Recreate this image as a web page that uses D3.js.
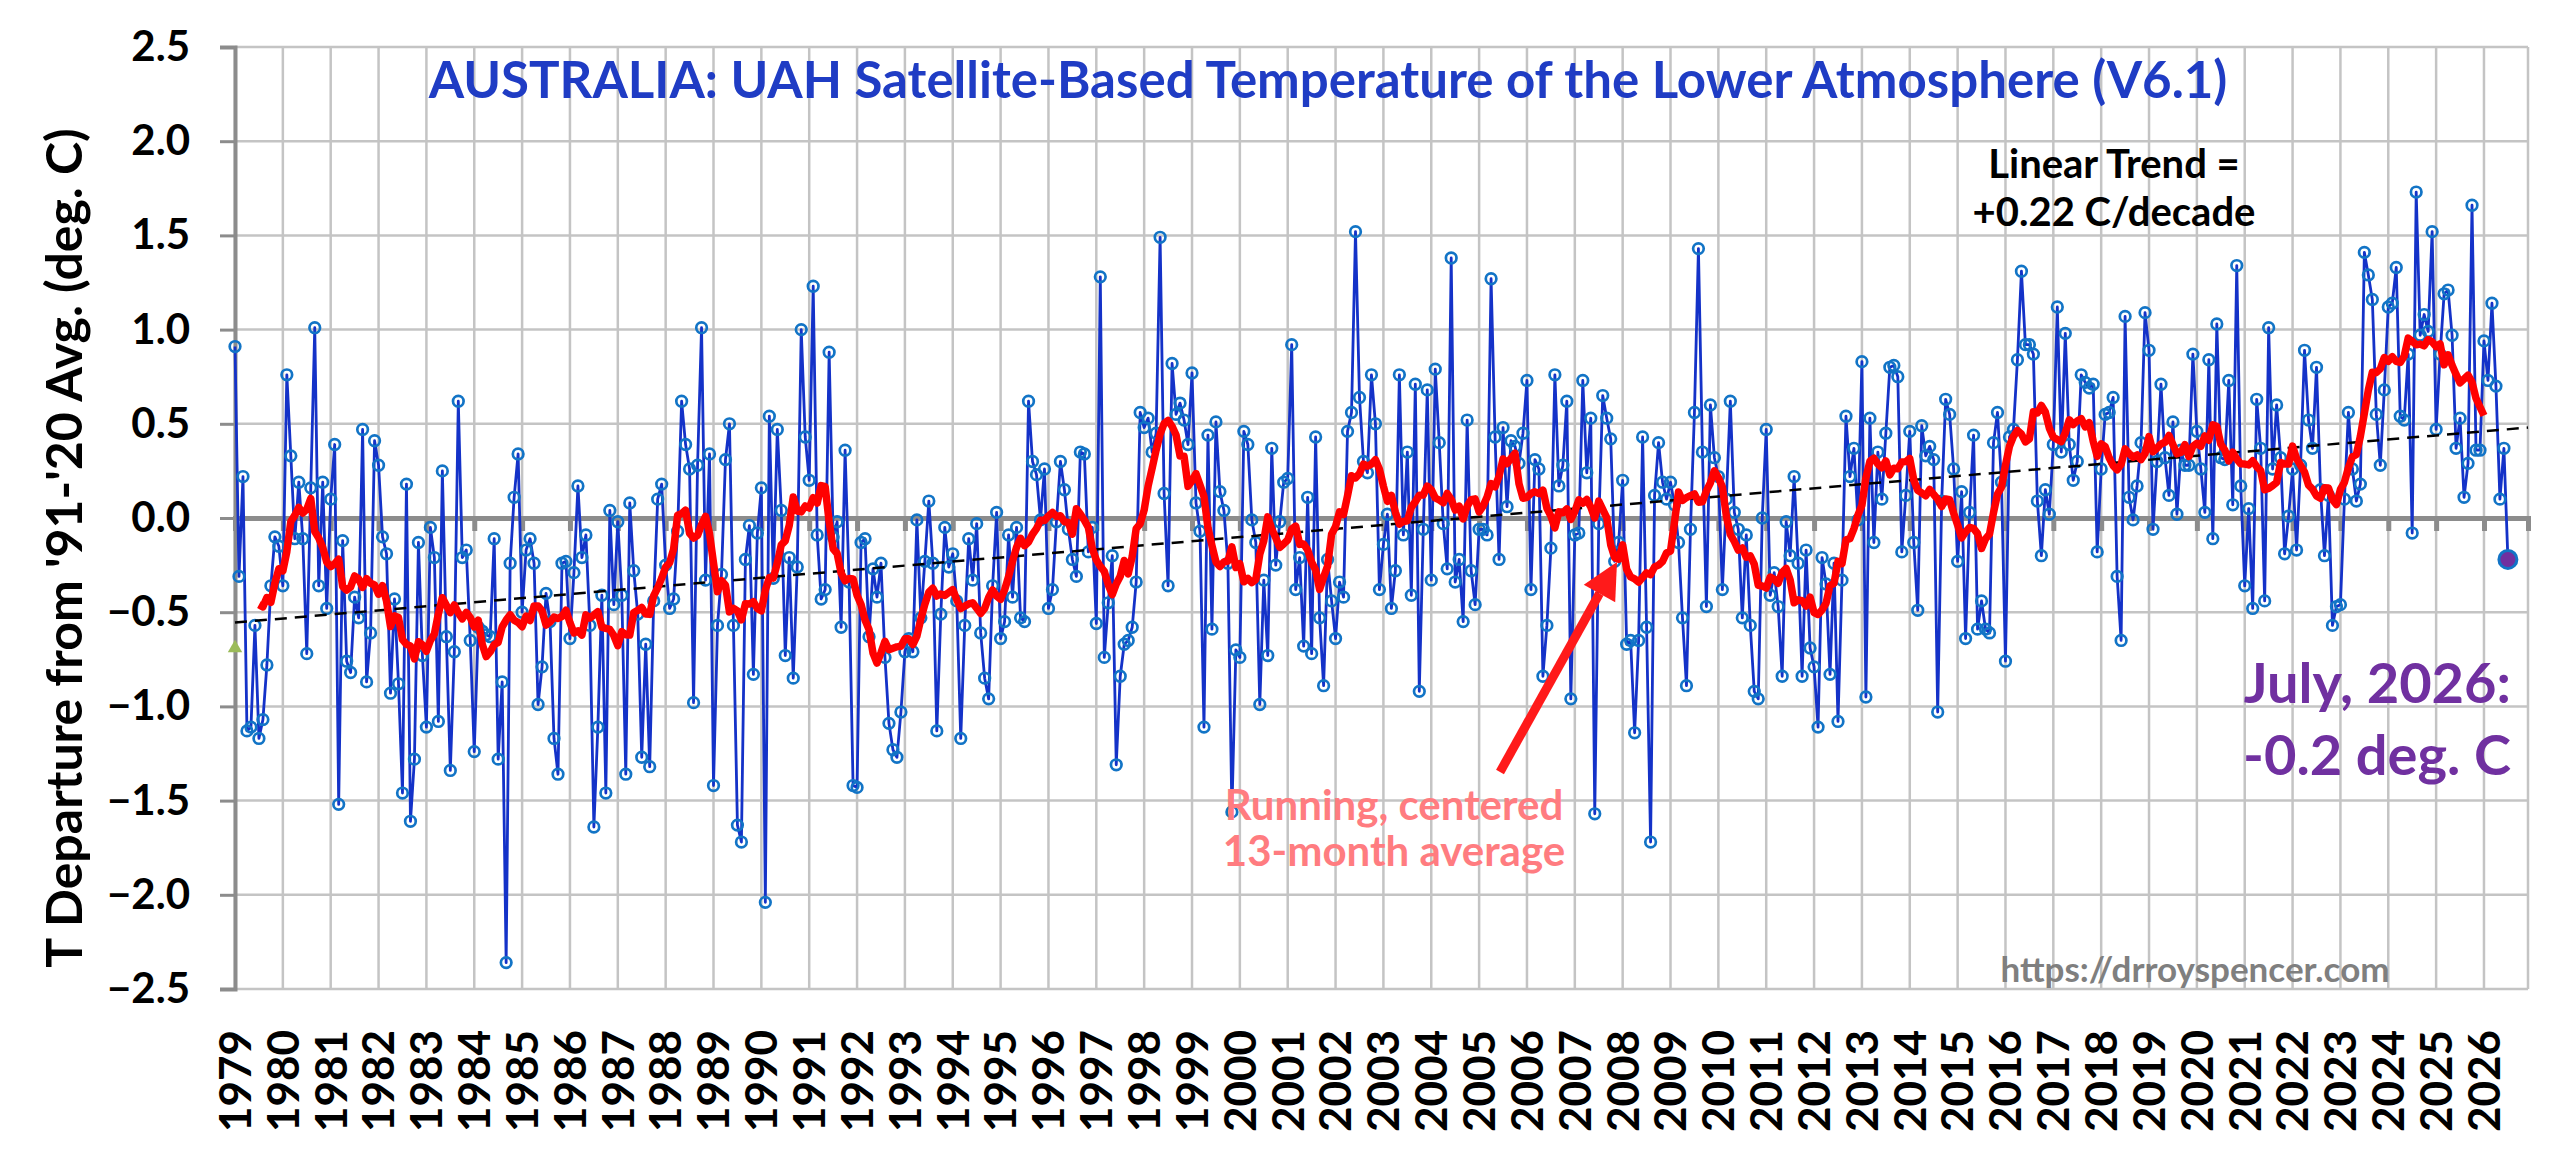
<!DOCTYPE html>
<html>
<head>
<meta charset="utf-8">
<script src="https://cdn.jsdelivr.net/npm/d3@7"></script>
<style>
    body { margin: 0; background: #fff; }
    text { font-family: Lato, "Open Sans", sans-serif; font-weight: bold; }
</style>
</head>
<body>
<svg id="chart" width="2560" height="1152"></svg>
<script>
// monthly anomalies (deg C), one row per year, starting Jan 1979, last month Jul 2026
var firstYear = 1979;
var anomalies = [
    0.91, -0.31, 0.22, -1.13, -1.11, -0.57, -1.17, -1.07, -0.78, -0.36, -0.10, -0.15,
    -0.36, 0.76, 0.33, -0.11, 0.19, -0.11, -0.72, 0.16, 1.01, -0.36, 0.19, -0.48,
    0.10, 0.39, -1.52, -0.12, -0.76, -0.82, -0.42, -0.53, 0.47, -0.87, -0.61, 0.41,
    0.28, -0.10, -0.19, -0.93, -0.43, -0.88, -1.46, 0.18, -1.61, -1.28, -0.13, -0.73,
    -1.11, -0.05, -0.21, -1.08, 0.25, -0.63, -1.34, -0.71, 0.62, -0.21, -0.17, -0.65,
    -1.24, -0.58, -0.60, -0.62, -0.63, -0.11, -1.28, -0.87, -2.36, -0.24, 0.11, 0.34,
    -0.50, -0.17, -0.11, -0.24, -0.99, -0.79, -0.40, -0.55, -1.17, -1.36, -0.24, -0.23,
    -0.64, -0.29, 0.17, -0.21, -0.09, -0.57, -1.64, -1.11, -0.41, -1.46, 0.04, -0.46,
    -0.02, -0.41, -1.36, 0.08, -0.28, -0.51, -1.27, -0.67, -1.32, -0.44, 0.10, 0.18,
    -0.25, -0.48, -0.43, -0.07, 0.62, 0.39, 0.26, -0.98, 0.28, 1.01, -0.33, 0.34,
    -1.42, -0.57, -0.30, 0.31, 0.50, -0.57, -1.63, -1.72, -0.22, -0.04, -0.83, -0.08,
    0.16, -2.04, 0.54, -0.32, 0.47, 0.04, -0.73, -0.21, -0.85, -0.26, 1.00, 0.43,
    0.20, 1.23, -0.09, -0.43, -0.38, 0.88, -0.10, -0.02, -0.58, 0.36, -0.34, -1.42,
    -1.43, -0.13, -0.11, -0.63, -0.27, -0.42, -0.24, -0.74, -1.09, -1.23, -1.27, -1.03,
    -0.71, -0.64, -0.71, -0.01, -0.53, -0.23, 0.09, -0.24, -1.13, -0.51, -0.05, -0.26,
    -0.19, -0.44, -1.17, -0.57, -0.11, -0.33, -0.03, -0.61, -0.85, -0.96, -0.36, 0.03,
    -0.64, -0.55, -0.09, -0.42, -0.05, -0.53, -0.55, 0.62, 0.30, 0.23, -0.01, 0.26,
    -0.48, -0.38, -0.02, 0.30, 0.15, -0.06, -0.22, -0.31, 0.35, 0.34, -0.18, -0.05,
    -0.56, 1.28, -0.74, -0.45, -0.20, -1.31, -0.84, -0.67, -0.65, -0.58, -0.34, 0.56,
    0.48, 0.53, 0.35, 0.45, 1.49, 0.13, -0.36, 0.82, 0.55, 0.61, 0.52, 0.39,
    0.77, 0.08, -0.07, -1.11, 0.44, -0.59, 0.51, 0.14, 0.04, -0.24, -1.56, -0.70,
    -0.74, 0.46, 0.39, -0.01, -0.13, -0.99, -0.33, -0.73, 0.37, -0.25, -0.02, 0.19,
    0.21, 0.92, -0.38, -0.21, -0.68, 0.11, -0.72, 0.43, -0.53, -0.89, -0.22, -0.44,
    -0.64, -0.34, -0.42, 0.46, 0.56, 1.52, 0.64, 0.30, 0.24, 0.76, 0.50, -0.38,
    -0.14, 0.02, -0.48, -0.28, 0.76, -0.09, 0.35, -0.41, 0.71, -0.92, -0.06, 0.68,
    -0.33, 0.79, 0.40, -0.03, -0.27, 1.38, -0.34, -0.22, -0.55, 0.52, -0.28, -0.46,
    -0.06, -0.06, -0.09, 1.27, 0.43, -0.22, 0.48, 0.06, 0.41, 0.38, 0.29, 0.45,
    0.73, -0.38, 0.31, 0.26, -0.84, -0.57, -0.16, 0.76, 0.17, 0.28, 0.62, -0.96,
    -0.09, -0.08, 0.73, 0.24, 0.53, -1.57, -0.03, 0.65, 0.53, 0.42, -0.23, -0.13,
    0.20, -0.67, -0.65, -1.14, -0.65, 0.43, -0.58, -1.72, 0.12, 0.40, 0.19, 0.10,
    0.19, 0.07, -0.13, -0.53, -0.89, -0.06, 0.56, 1.43, 0.35, -0.47, 0.60, 0.32,
    0.22, -0.38, 0.10, 0.62, 0.03, -0.06, -0.53, -0.09, -0.57, -0.92, -0.96, 0.00,
    0.47, -0.41, -0.29, -0.47, -0.84, -0.02, -0.20, 0.22, -0.24, -0.84, -0.17, -0.69,
    -0.79, -1.11, -0.21, -0.35, -0.83, -0.24, -1.08, -0.33, 0.54, 0.22, 0.37, -0.01,
    0.83, -0.95, 0.53, -0.13, 0.35, 0.10, 0.45, 0.80, 0.81, 0.75, -0.18, 0.12,
    0.46, -0.13, -0.49, 0.49, 0.33, 0.38, 0.31, -1.03, 0.09, 0.63, 0.55, 0.26,
    -0.23, 0.14, -0.64, 0.03, 0.44, -0.59, -0.44, -0.59, -0.61, 0.40, 0.56, 0.19,
    -0.76, 0.43, 0.47, 0.84, 1.31, 0.92, 0.92, 0.87, 0.09, -0.20, 0.15, 0.02,
    0.39, 1.12, 0.35, 0.98, 0.39, 0.20, 0.30, 0.76, 0.72, 0.69, 0.71, -0.18,
    0.26, 0.55, 0.56, 0.64, -0.31, -0.65, 1.07, 0.11, -0.01, 0.17, 0.40, 1.09,
    0.89, -0.06, 0.30, 0.71, 0.32, 0.12, 0.51, 0.02, 0.36, 0.28, 0.28, 0.87,
    0.46, 0.26, 0.03, 0.84, -0.11, 1.03, 0.32, 0.31, 0.73, 0.07, 1.34, 0.17,
    -0.36, 0.05, -0.48, 0.63, 0.37, -0.44, 1.01, 0.26, 0.60, 0.32, -0.19, 0.01,
    0.26, -0.17, 0.28, 0.89, 0.52, 0.37, 0.80, 0.15, -0.20, 0.12, -0.57, -0.47,
    -0.46, 0.10, 0.56, 0.26, 0.09, 0.18, 1.41, 1.29, 1.16, 0.55, 0.28, 0.68,
    1.12, 1.14, 1.33, 0.54, 0.52, 0.87, -0.08, 1.73, 0.97, 1.08, 0.99, 1.52,
    0.47, 0.87, 1.19, 1.21, 0.97, 0.37, 0.53, 0.11, 0.29, 1.66, 0.36, 0.36,
    0.94, 0.73, 1.14, 0.70, 0.10, 0.37, -0.22
];

// axis ticks
var yearTicks = d3.range(1979, 2027);
var valueTicks = [-2.5, -2.0, -1.5, -1.0, -0.5, 0.0, 0.5, 1.0, 1.5, 2.0, 2.5];

// dashed linear trend at both ends
var trendYears = [1979, 2026.92];
var trendValues = [-0.555, 0.48];

// text
var titleText = "AUSTRALIA: UAH Satellite-Based Temperature of the Lower Atmosphere (V6.1)";
var yTitle = "T Departure from '91-'20 Avg. (deg. C)";
var trendNote = ["Linear Trend =", "+0.22 C/decade"];
var runningNote = ["Running, centered", "13-month average"];
var latestNote = ["July, 2026:", "-0.2 deg. C"];
var siteNote = "https://drroyspencer.com";

var svg = d3.select("#chart");

// plot box (pixels)
var plotLeft = 235, plotRight = 2528, plotTop = 47, plotBottom = 989;

var x = d3.scaleLinear().domain([1979, 2026.92]).range([plotLeft, plotRight]);
var y = d3.scaleLinear().domain([-2.5, 2.5]).range([plotBottom, plotTop]);

var points = anomalies.map(function (v, i) {
    return { t: firstYear + i / 12, v: v };
});

// centered 13-month running mean, only where the full window exists
var running = [];
for (var i = 6; i < anomalies.length - 6; i++) {
    running.push({ t: firstYear + i / 12, v: d3.mean(anomalies.slice(i - 6, i + 7)) });
}

//gridlines
var grid = svg.append("g");
grid.selectAll("line.h")
    .data(valueTicks)
    .enter().append("line")
    .attr("x1", plotLeft).attr("x2", plotRight)
    .attr("y1", function (d) { return y(d); })
    .attr("y2", function (d) { return y(d); })
    .attr("stroke", "#c4c4c4").attr("stroke-width", 2.5);
grid.selectAll("line.v")
    .data(yearTicks.concat([2026.92]))
    .enter().append("line")
    .attr("y1", plotTop).attr("y2", plotBottom)
    .attr("x1", function (d) { return x(d); })
    .attr("x2", function (d) { return x(d); })
    .attr("stroke", "#c4c4c4").attr("stroke-width", 2.5);

// y axis with outward ticks
var yAxis = d3.axisLeft(y).tickValues(valueTicks).tickFormat(d3.format(".1f"))
    .tickSize(15).tickPadding(30);
var yg = svg.append("g").attr("transform", "translate(" + plotLeft + ",0)").call(yAxis);
yg.select(".domain").attr("stroke", "#8c8c8c").attr("stroke-width", 4);
yg.selectAll(".tick line").attr("stroke", "#8c8c8c").attr("stroke-width", 3);
yg.selectAll(".tick text").attr("font-size", 42).attr("fill", "#000")
    .style("font-family", "Lato, sans-serif").style("font-weight", "bold");

// category axis crossing at zero, ticks below it
var xAxis = d3.axisBottom(x).tickValues(yearTicks).tickSize(13).tickFormat("");
var xg = svg.append("g").attr("transform", "translate(0," + y(0) + ")").call(xAxis);
xg.select(".domain").attr("stroke", "#8c8c8c").attr("stroke-width", 5);
xg.selectAll(".tick line").attr("stroke", "#8c8c8c").attr("stroke-width", 5);

// year labels under the plot, rotated
svg.append("g").selectAll("text")
    .data(yearTicks)
    .enter().append("text")
    .attr("transform", function (d) { return "translate(" + x(d) + ",1030) rotate(-90)"; })
    .attr("text-anchor", "end")
    .attr("dy", "0.36em")
    .attr("font-size", 44)
    .text(function (d) { return d; });

// axis title
svg.append("text")
    .attr("transform", "translate(64,548) rotate(-90)")
    .attr("text-anchor", "middle")
    .attr("dy", "0.35em")
    .attr("font-size", 50)
    .text(yTitle);

// title
svg.append("text")
    .attr("x", 1328).attr("y", 98)
    .attr("text-anchor", "middle")
    .attr("font-size", 51)
    .attr("fill", "#1f3cc4")
    .text(titleText);

var line = d3.line()
    .x(function (d) { return x(d.t); })
    .y(function (d) { return y(d.v); });

// monthly series
svg.append("path")
    .datum(points)
    .attr("d", line)
    .attr("fill", "none")
    .attr("stroke", "#1432c8")
    .attr("stroke-width", 2.8)
    .attr("stroke-linejoin", "round");

svg.append("g").selectAll("circle")
    .data(points.slice(0, -1))
    .enter().append("circle")
    .attr("cx", function (d) { return x(d.t); })
    .attr("cy", function (d) { return y(d.v); })
    .attr("r", 5.3)
    .attr("fill", "none")
    .attr("stroke", "#1274c6")
    .attr("stroke-width", 2.7);

// trend
svg.append("line")
    .attr("x1", x(trendYears[0])).attr("y1", y(trendValues[0]))
    .attr("x2", x(trendYears[1])).attr("y2", y(trendValues[1]))
    .attr("stroke", "#000")
    .attr("stroke-width", 2.5)
    .attr("stroke-dasharray", "12,8");

// running mean
svg.append("path")
    .datum(running)
    .attr("d", line)
    .attr("fill", "none")
    .attr("stroke", "#ff0000")
    .attr("stroke-width", 7.5)
    .attr("stroke-linejoin", "round");

// small green marker at the start of the axis
svg.append("path")
    .attr("d", d3.symbol().type(d3.symbolTriangle).size(90))
    .attr("transform", "translate(" + plotLeft + "," + y(-0.69) + ")")
    .attr("fill", "#9bbb59");

// latest month highlighted
var last = points[points.length - 1];
svg.append("circle")
    .attr("cx", x(last.t)).attr("cy", y(last.v))
    .attr("r", 9)
    .attr("fill", "#7030a0")
    .attr("stroke", "#1274c6")
    .attr("stroke-width", 3);

// notes
svg.append("g").selectAll("text")
    .data(trendNote)
    .enter().append("text")
    .attr("x", 2114)
    .attr("y", function (d, i) { return 178 + i * 48; })
    .attr("text-anchor", "middle")
    .attr("font-size", 40)
    .text(function (d) { return d; });

svg.append("g").selectAll("text")
    .data(runningNote)
    .enter().append("text")
    .attr("x", 1394)
    .attr("y", function (d, i) { return 820 + i * 46; })
    .attr("text-anchor", "middle")
    .attr("font-size", 42)
    .attr("fill", "#ff7c80")
    .text(function (d) { return d; });

svg.append("g").selectAll("text")
    .data(latestNote)
    .enter().append("text")
    .attr("x", 2511)
    .attr("y", function (d, i) { return 703 + i * 72; })
    .attr("text-anchor", "end")
    .attr("font-size", 56)
    .attr("fill", "#7030a0")
    .text(function (d) { return d; });

svg.append("text")
    .attr("x", 2195).attr("y", 982)
    .attr("text-anchor", "middle")
    .attr("font-size", 35)
    .attr("fill", "#7f7f7f")
    .text(siteNote);

// arrow pointing at the running mean
var tail = [1500, 772], tip = [1617, 562];
var ang = Math.atan2(tip[1] - tail[1], tip[0] - tail[0]);
var headLen = 36, headW = 18;
var base = [tip[0] - headLen * Math.cos(ang), tip[1] - headLen * Math.sin(ang)];
svg.append("line")
    .attr("x1", tail[0]).attr("y1", tail[1])
    .attr("x2", base[0]).attr("y2", base[1])
    .attr("stroke", "#ff1a1a").attr("stroke-width", 9);
svg.append("polygon")
    .attr("points", [
        tip,
        [base[0] + headW * Math.sin(ang), base[1] - headW * Math.cos(ang)],
        [base[0] - headW * Math.sin(ang), base[1] + headW * Math.cos(ang)]
    ].map(function (p) { return p.join(","); }).join(" "))
    .attr("fill", "#ff1a1a");
</script>
</body>
</html>
